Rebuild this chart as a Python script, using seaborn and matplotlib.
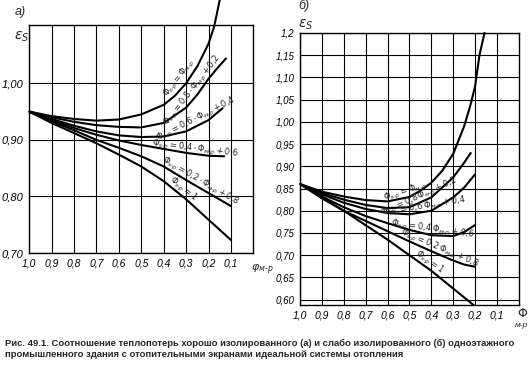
import numpy as np
import pandas as pd
import seaborn as sns
import matplotlib.pyplot as plt

# ---- panel а) : well insulated building, eps_s vs phi_m-p ----
phi_a1 = [1.0, 0.9, 0.8, 0.7, 0.6, 0.5, 0.4, 0.35, 0.3, 0.25, 0.2, 0.175, 0.15]
eps_a1 = [0.95, 0.942, 0.937, 0.934, 0.936, 0.945, 0.962, 0.978, 1.0, 1.03, 1.07, 1.10, 1.147]
phi_a2 = [1.0, 0.9, 0.8, 0.7, 0.6, 0.5, 0.4, 0.3, 0.25, 0.2, 0.16, 0.122]
eps_a2 = [0.95, 0.94, 0.932, 0.926, 0.923, 0.922, 0.93, 0.957, 0.98, 1.008, 1.027, 1.044]
phi_a3 = [1.0, 0.9, 0.8, 0.7, 0.6, 0.5, 0.4, 0.3, 0.2, 0.137]
eps_a3 = [0.95, 0.937, 0.925, 0.915, 0.908, 0.905, 0.906, 0.915, 0.935, 0.956]
phi_a4 = [1.0, 0.9, 0.8, 0.7, 0.6, 0.5, 0.4, 0.3, 0.2, 0.13]
eps_a4 = [0.95, 0.935, 0.921, 0.909, 0.899, 0.891, 0.884, 0.877, 0.872, 0.871]
phi_a5 = [1.0, 0.9, 0.8, 0.7, 0.6, 0.5, 0.4, 0.3, 0.2, 0.1]
eps_a5 = [0.95, 0.933, 0.917, 0.90, 0.886, 0.871, 0.853, 0.829, 0.806, 0.783]
phi_a6 = [1.0, 0.9, 0.8, 0.7, 0.6, 0.5, 0.4, 0.3, 0.2, 0.1]
eps_a6 = [0.95, 0.93, 0.912, 0.894, 0.874, 0.853, 0.827, 0.795, 0.759, 0.723]

# ---- panel б) : poorly insulated building ----
phi_b1 = [1.0, 0.9, 0.8, 0.7, 0.6, 0.5, 0.45, 0.4, 0.35, 0.3, 0.25, 0.22, 0.2, 0.18, 0.157]
eps_b1 = [0.86, 0.843, 0.832, 0.824, 0.821, 0.831, 0.845, 0.863, 0.89, 0.928, 0.99, 1.04, 1.08, 1.15, 1.2]
phi_b2 = [1.0, 0.9, 0.8, 0.7, 0.6, 0.5, 0.4, 0.3, 0.25, 0.22]
eps_b2 = [0.86, 0.84, 0.825, 0.813, 0.806, 0.808, 0.83, 0.875, 0.908, 0.93]
phi_b3 = [1.0, 0.9, 0.8, 0.7, 0.6, 0.5, 0.4, 0.3, 0.25, 0.2]
eps_b3 = [0.86, 0.837, 0.818, 0.804, 0.795, 0.792, 0.80, 0.83, 0.852, 0.882]
phi_b4 = [1.0, 0.9, 0.8, 0.7, 0.6, 0.5, 0.4, 0.3, 0.25, 0.2]
eps_b4 = [0.86, 0.832, 0.808, 0.788, 0.772, 0.757, 0.745, 0.743, 0.752, 0.768]
phi_b5 = [1.0, 0.9, 0.8, 0.7, 0.6, 0.5, 0.4, 0.3, 0.25, 0.2]
eps_b5 = [0.86, 0.828, 0.80, 0.777, 0.754, 0.731, 0.709, 0.688, 0.679, 0.674]
phi_b6 = [1.0, 0.8, 0.6, 0.4, 0.2]
eps_b6 = [0.86, 0.80, 0.735, 0.665, 0.585]

labels_a = [r'$\Phi_{s‐р}=\Phi_{м‐р}$',
            r'$\Phi_{s‐р}=0{,}8\cdot\Phi_{м‐р}+0{,}2$',
            r'$\Phi_{s‐р}=0{,}6\cdot\Phi_{м‐р}+0{,}4$',
            r'$\Phi_{s‐р}=0{,}4\cdot\Phi_{м‐р}+0{,}6$',
            r'$\Phi_{s‐р}=0{,}2\cdot\Phi_{м‐р}+0{,}8$',
            r'$\Phi_{s‐р}=1$']
labels_b = [r'$\Phi_{s‐р}=\Phi_{м‐р}$',
            r'$\Phi_{s‐р}=0{,}8\,\Phi_{м‐р}+0{,}2$',
            r'$\Phi_{s‐р}=0{,}6\;\Phi_{м‐р}+0{,}4$',
            r'$\Phi_{s‐р}=0{,}4\;\Phi_{м‐р}+0{,}6$',
            r'$\Phi_{s‐р}=0{,}2\;\Phi_{м‐р}+0{,}8$',
            r'$\Phi_{s‐р}=1$']
# phi at which each label sits, and its offset from the curve (points)
lab_x_a = [0.30, 0.25, 0.245, 0.26, 0.25, 0.33]
lab_off_a = [6.0, 4.6, 4.3, 4.0, 4.3, 4.3]
lab_x_b = [0.51, 0.445, 0.43, 0.40, 0.375, 0.425]
lab_off_b = [4.2, 3.9, 3.9, 4.0, 4.0, 4.0]

x_ticks = [1.0, 0.9, 0.8, 0.7, 0.6, 0.5, 0.4, 0.3, 0.2, 0.1]
x_ticklabels = ['1,0', '0,9', '0,8', '0,7', '0,6', '0,5', '0,4', '0,3', '0,2', '0,1']
ya_ticks = [0.70, 0.80, 0.90, 1.00]
ya_ticklabels = ['0,70', '0,80', '0,90', '1,00']
yb_ticks = [0.60, 0.65, 0.70, 0.75, 0.80, 0.85, 0.90, 0.95, 1.00, 1.05, 1.10, 1.15, 1.20]
yb_ticklabels = ['0,60', '0,65', '0,70', '0,75', '0,80', '0,85', '0,90', '0,95',
                 '1,00', '1,05', '1,10', '1,15', '1,2']

caption = ('Рис. 49.1. Соотношение теплопотерь хорошо изолированного (а) и слабо изолированного (б) одноэтажного\n'
           'промышленного здания с отопительными экранами идеальной системы отопления')

sns.set_style('white')
plt.rcParams['font.family'] = ['Liberation Sans', 'DejaVu Sans']
plt.rcParams['mathtext.fontset'] = 'dejavusans'

fig = plt.figure(figsize=(5.3, 3.74), dpi=100)
ax_a = fig.add_axes([0.055, 0.3235, 0.423, 0.6095])
ax_b = fig.add_axes([0.566, 0.1845, 0.413, 0.7275])

curves_a = [(phi_a1, eps_a1), (phi_a2, eps_a2), (phi_a3, eps_a3),
            (phi_a4, eps_a4), (phi_a5, eps_a5), (phi_a6, eps_a6)]
curves_b = [(phi_b1, eps_b1), (phi_b2, eps_b2), (phi_b3, eps_b3),
            (phi_b4, eps_b4), (phi_b5, eps_b5), (phi_b6, eps_b6)]


def label_curve(ax, x, y, x0, txt, fs, off):
    xs, ys = np.array(x)[::-1], np.array(y)[::-1]
    y0 = np.interp(x0, xs, ys)
    # local slope on screen
    p1 = ax.transData.transform((x0 + 0.03, np.interp(x0 + 0.03, xs, ys)))
    p2 = ax.transData.transform((x0 - 0.03, np.interp(x0 - 0.03, xs, ys)))
    ang = np.degrees(np.arctan2(p2[1] - p1[1], p2[0] - p1[0]))
    r = np.radians(ang)
    ax.annotate(txt, (x0, y0), xytext=(-np.sin(r) * off, np.cos(r) * off),
                textcoords='offset points', rotation=ang, fontsize=fs,
                ha='center', va='center', rotation_mode='anchor')


def draw_panel(ax, curves, labels, lab_x, lab_off, ylim, yticks, yticklabels, fs_y):
    for x, y in curves:
        sns.lineplot(x=x, y=y, color='black', lw=1.5, ax=ax)
    ax.lines[0].set_clip_on(False)
    ax.set_xlim(1.0, 0.0)
    ax.set_ylim(*ylim)
    ax.set_xticks(x_ticks)
    ax.set_xticklabels(x_ticklabels, fontstyle='italic', fontsize=7.5)
    ax.set_yticks(yticks)
    ax.set_yticklabels(yticklabels, fontstyle='italic', fontsize=fs_y)
    ax.tick_params(length=0, pad=4, colors='black')
    ax.grid(True, color='black', lw=0.8)
    for s in ax.spines.values():
        s.set_color('black')
        s.set_linewidth(1.0)
    ax.set_xlabel('')
    ax.set_ylabel('')
    for (x, y), x0, off, txt in zip(curves, lab_x, lab_off, labels):
        label_curve(ax, x, y, x0, txt, 6.0, off)


draw_panel(ax_a, curves_a, labels_a, lab_x_a, lab_off_a, (0.70, 1.103),
           ya_ticks, ya_ticklabels, 8)
draw_panel(ax_b, curves_b, labels_b, lab_x_b, lab_off_b, (0.588, 1.20),
           yb_ticks, yb_ticklabels, 7)

# panel letters, axis names
fig.text(0.028, 0.96, 'а)', fontsize=9, fontstyle='italic')
fig.text(0.027, 0.895, r'$\varepsilon_S$', fontsize=10)
fig.text(0.474, 0.275, r'$\varphi_{м‐р}$', fontsize=8)
fig.text(0.563, 0.975, 'б)', fontsize=9, fontstyle='italic')
fig.text(0.562, 0.925, r'$\varepsilon_S$', fontsize=10)
fig.text(0.975, 0.152, r'$\Phi$', fontsize=9)
fig.text(0.972, 0.125, 'м-р', fontsize=6, fontstyle='italic')

fig.text(0.01, 0.045, caption, fontsize=6.8, fontweight='bold', linespacing=1.35)

fig.savefig('out.png', dpi=100)
